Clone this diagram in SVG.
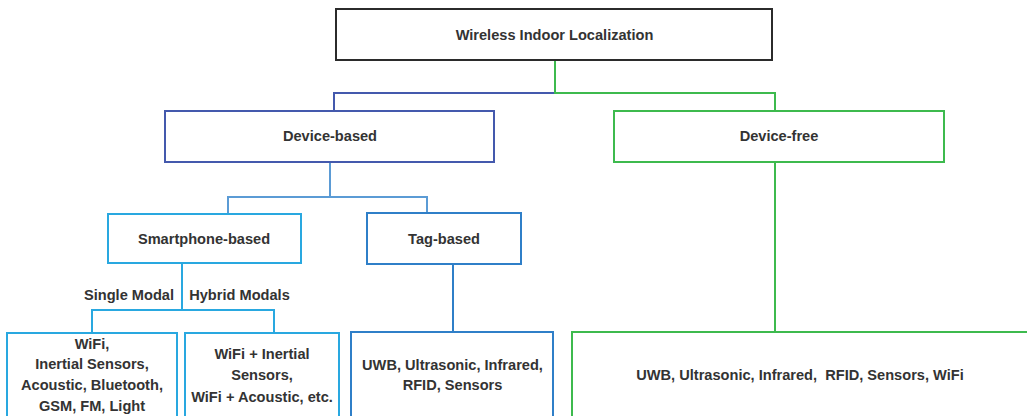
<svg xmlns="http://www.w3.org/2000/svg" width="1027" height="416" viewBox="0 0 1027 416">
<style>
  .box { fill: #ffffff; stroke-width: 2; }
  .t { font-family: "Liberation Sans", Arial, sans-serif; font-weight: bold; font-size: 14.6px; fill: #333333; text-anchor: middle; }
  .c { fill: none; stroke-width: 2; }
  .dark { stroke: #2b2b2b; }
  .indigo { stroke: #4459ad; }
  .green { stroke: #3dba4e; }
  .steel { stroke: #5b9bd5; }
  .sky { stroke: #29a8e0; }
  .mid { stroke: #2f7fc8; }
</style>
<rect width="1027" height="416" fill="#ffffff"/>
<g id="connectors">
  <path class="c indigo" d="M555 93 H334 V111"/>
  <path class="c green" d="M555 60 V93 H775 V111"/>
  <path class="c steel" d="M330 162 V197 H228 V214 M330 197 H427 V213"/>
  <path class="c sky" d="M182 264 V310 H92 V333 M182 310 H274 V333"/>
  <path class="c mid" d="M453 264 V332"/>
  <path class="c green" d="M775 162 V332"/>
</g>
<g id="root">
  <rect class="box dark" x="336" y="9" width="436" height="51"/>
  <text class="t" x="554.5" y="40">Wireless Indoor Localization</text>
</g>
<g id="device-based">
  <rect class="box indigo" x="165" y="111" width="329" height="51"/>
  <text class="t" x="330" y="141">Device-based</text>
</g>
<g id="device-free">
  <rect class="box green" x="614" y="111" width="330" height="51"/>
  <text class="t" x="779" y="141">Device-free</text>
</g>
<g id="smartphone-based">
  <rect class="box sky" x="108" y="214" width="193" height="49"/>
  <text class="t" x="204" y="244">Smartphone-based</text>
</g>
<g id="tag-based">
  <rect class="box mid" x="367" y="213" width="154" height="51"/>
  <text class="t" x="444" y="244">Tag-based</text>
</g>
<g id="edge-labels">
  <text class="t" x="129" y="300">Single Modal</text>
  <text class="t" x="239.5" y="300">Hybrid Modals</text>
</g>
<g id="single-modal">
  <rect class="box sky" x="7" y="333" width="170" height="90"/>
  <text class="t" x="92" y="349">WiFi,</text>
  <text class="t" x="92" y="369">Inertial Sensors,</text>
  <text class="t" x="92" y="390">Acoustic, Bluetooth,</text>
  <text class="t" x="92" y="411">GSM, FM, Light</text>
</g>
<g id="hybrid-modals">
  <rect class="box sky" x="185" y="333" width="154" height="90"/>
  <text class="t" x="262" y="359">WiFi + Inertial</text>
  <text class="t" x="262" y="380">Sensors,</text>
  <text class="t" x="262" y="402">WiFi + Acoustic, etc.</text>
</g>
<g id="tag-tech">
  <rect class="box mid" x="351" y="332" width="202" height="91"/>
  <text class="t" x="452.5" y="370">UWB, Ultrasonic, Infrared,</text>
  <text class="t" x="452.5" y="390">RFID, Sensors</text>
</g>
<g id="free-tech">
  <rect class="box green" x="572" y="332" width="460" height="91"/>
  <text class="t" x="800" y="380" xml:space="preserve">UWB, Ultrasonic, Infrared,  RFID, Sensors, WiFi</text>
</g>
</svg>
